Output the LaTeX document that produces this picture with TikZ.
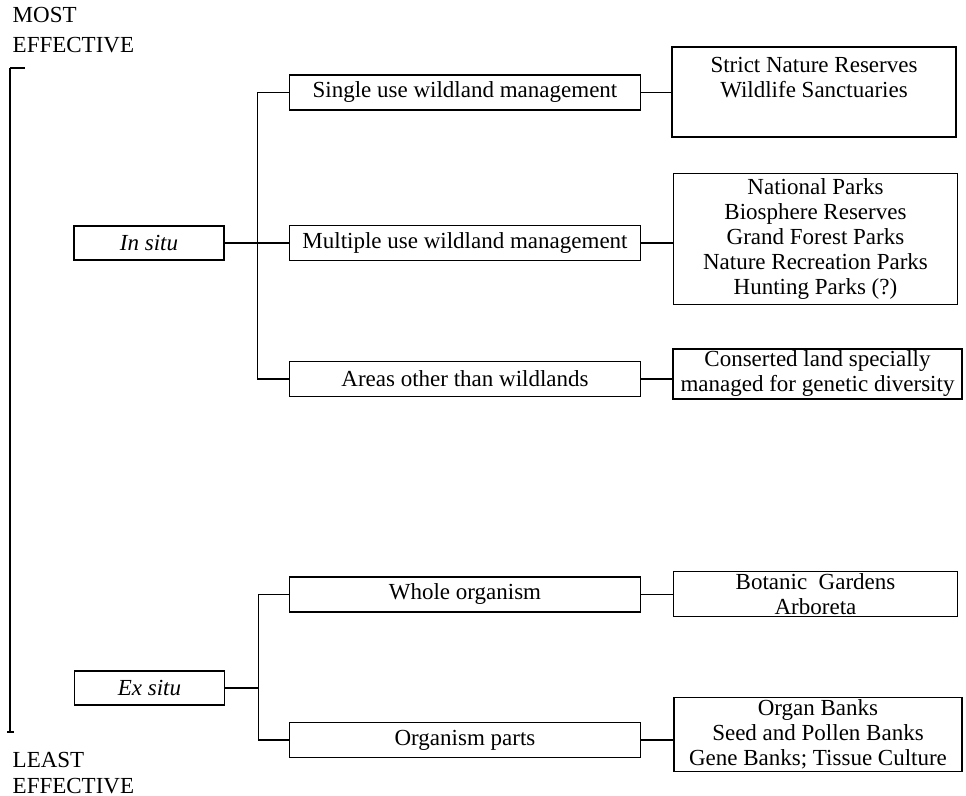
\documentclass[tikz,border=0pt]{standalone}
\usepackage{fontspec}
\setmainfont{Liberation Serif}
\usetikzlibrary{positioning,calc}

\begin{document}
\begin{tikzpicture}[line width=0.7pt,
  boite/.style={rectangle,draw,inner sep=1pt,font=\fontsize{11.5}{12.5}\selectfont},
  gauche/.style={boite,minimum width=75pt,minimum height=17pt},
  milieu/.style={boite,minimum width=175.5pt,minimum height=17.5pt},
  droite/.style={boite,align=center,minimum width=142pt},
  titre/.style={anchor=west,inner sep=0pt,font=\fontsize{11.5}{12.5}\selectfont}]
\begin{scope}[x=0.5pt,y=-0.5pt]
\useasboundingbox (0,0) rectangle (966,796);
% echelle d'efficacite
\node (MOST) at (12,15) [titre] {MOST};
\node (EFF1) at (12,45) [titre] {EFFECTIVE};
\node (LEAST) at (12,760) [titre] {LEAST};
\node (EFF2) at (12,786) [titre] {EFFECTIVE};
\coordinate (HAUT) at (10,68);
\coordinate (BAS) at (10,732);
\draw (HAUT) -- (BAS);
\draw (HAUT) --++ (15,0);
\draw (BAS) ++(-3,0) --++ (7,0);

% description et nommage des noeuds
\node (IS) at (149,243) [gauche] {\textit{In situ}};
\node (ES) at (149.5,688) [gauche] {\textit{Ex situ}};

\node (SU) at (465,92.5) [milieu] {Single use wildland management};
\node (MU) at (465,243) [milieu] {Multiple use wildland management};
\node (AO) at (465,379) [milieu] {Areas other than wildlands};
\node (WO) at (465,594.5) [milieu] {Whole organism};
\node (OP) at (465,740) [milieu] {Organism parts};

\node (SNR) at (814,92) [droite,minimum height=45pt] {Strict Nature Reserves\\Wildlife Sanctuaries\\[2pt]\mbox{}};
\node (NP) at (815.5,239) [droite,inner ysep=2.5pt] {National Parks\\Biosphere Reserves\\Grand Forest Parks\\Nature Recreation Parks\\Hunting Parks (?)};
\node (CL) at (817.5,374) [droite,minimum width=144.5pt] {Conserted land specially\\managed for genetic diversity};
\node (BG) at (815.5,594) [droite] {Botanic\ \ Gardens\\Arboreta};
\node (OB) at (818,734.5) [droite,minimum width=144pt] {Organ Banks\\Seed and Pollen Banks\\Gene Banks; Tissue Culture};

% description des aretes
% -- depart horizontal puis |- arrivee horizontale
\draw (IS.east) --++ (33,0) |- (SU);
\draw (IS.east) --++ (33,0) |- (MU);
\draw (IS.east) --++ (33,0) |- (AO);
\draw (ES.east) --++ (33,0) |- (WO);
\draw (ES.east) --++ (33,0) |- (OP);

\draw (SU) -- (SNR.west |- SU);
\draw (MU) -- (NP.west |- MU);
\draw (AO) -- (CL.west |- AO);
\draw (WO) -- (BG.west |- WO);
\draw (OP) -- (OB.west |- OP);
\end{scope}
\end{tikzpicture}
\end{document}
